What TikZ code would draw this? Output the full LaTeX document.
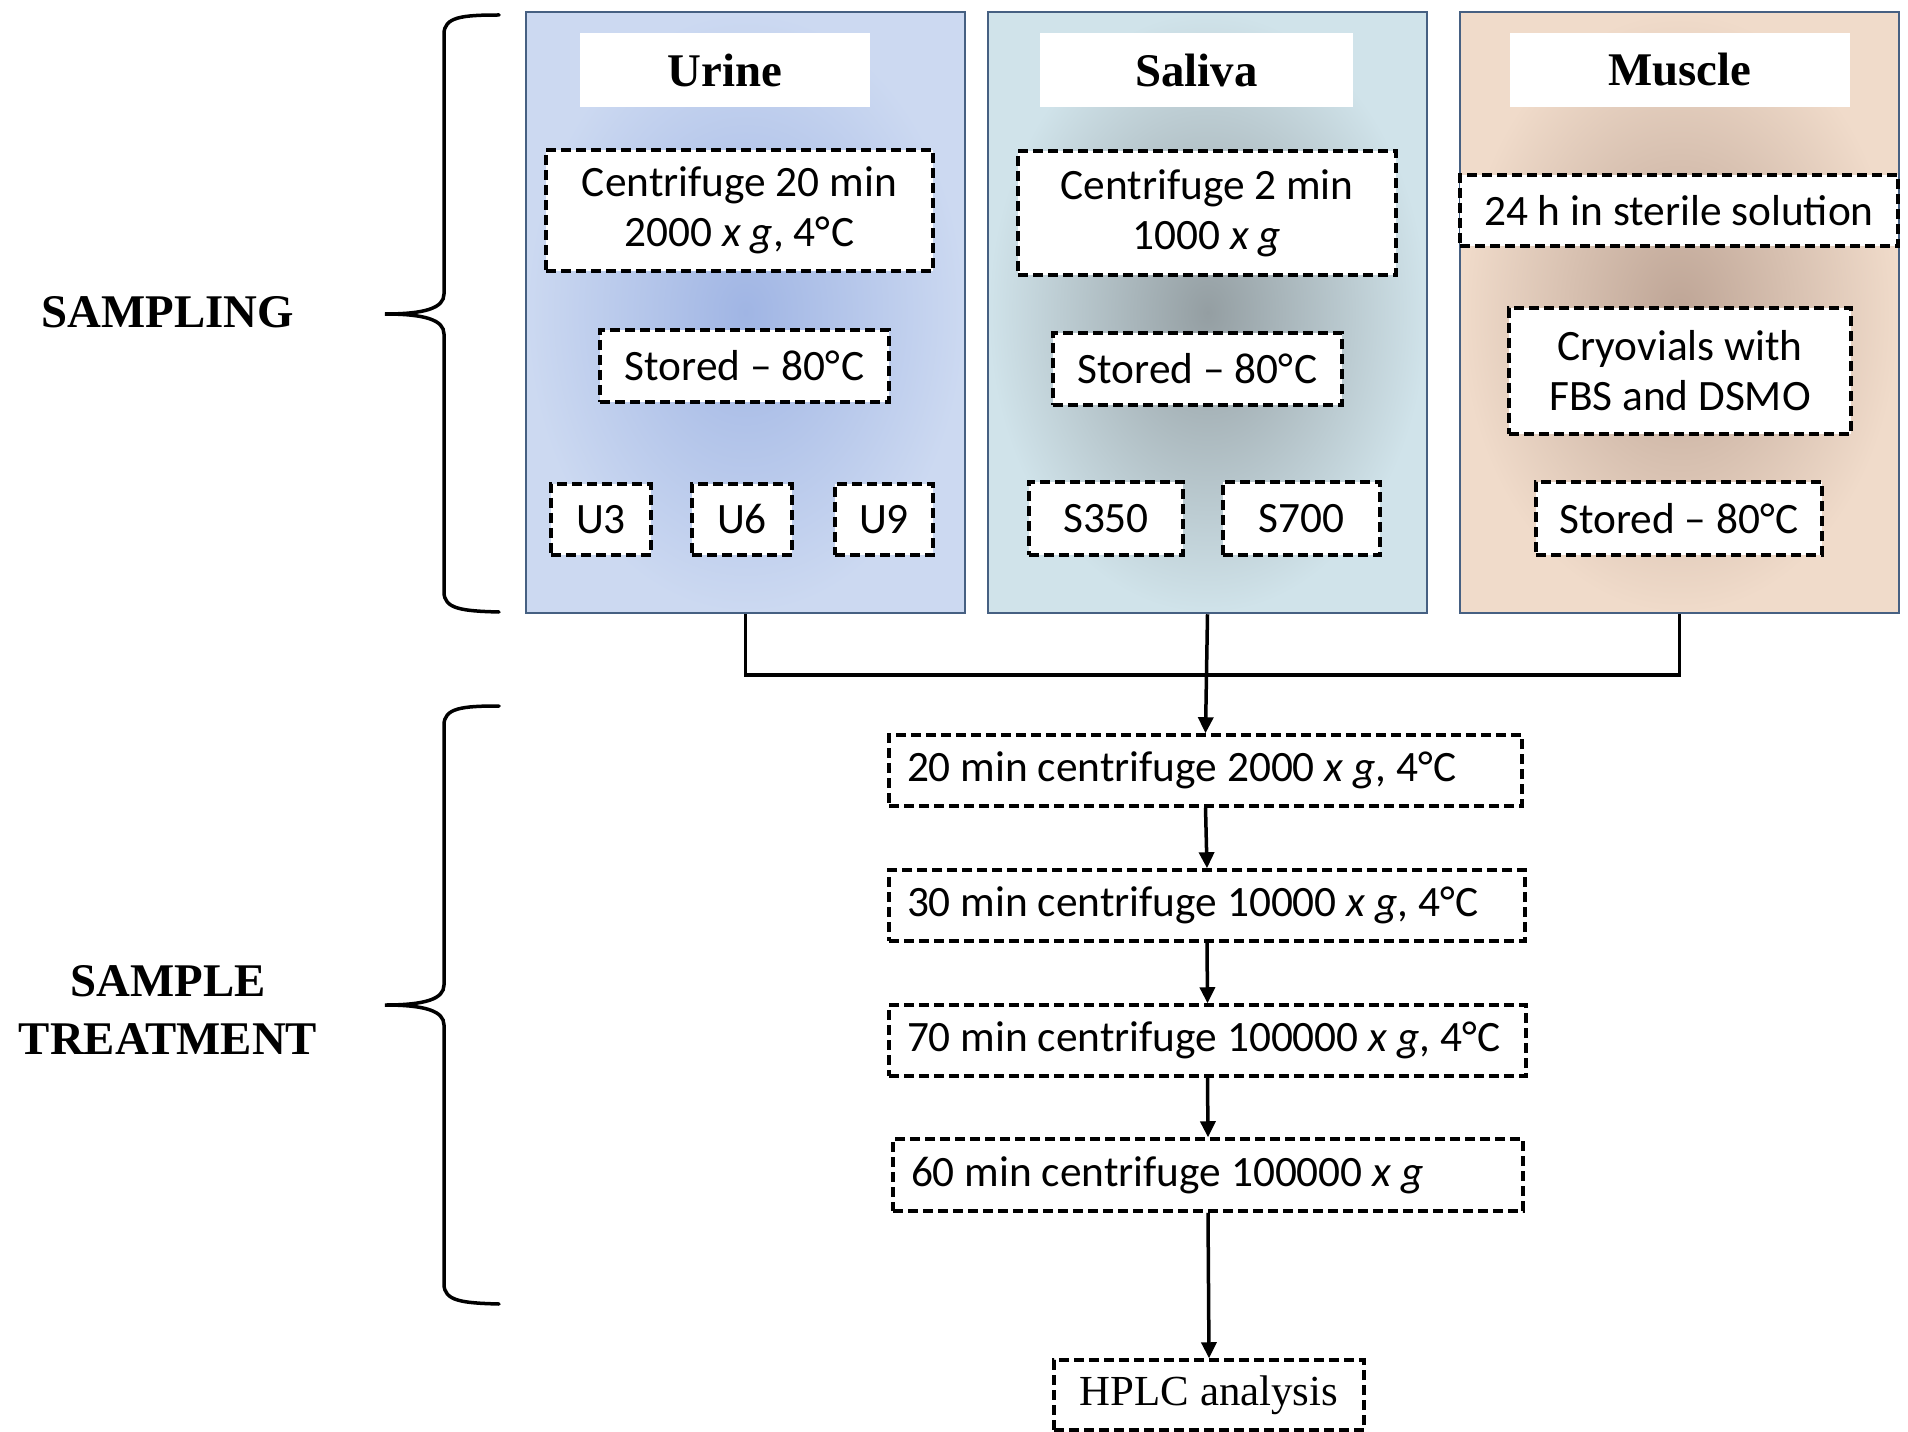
\documentclass[tikz,border=0pt]{standalone}
\usepackage{fontspec}
\setmainfont{Carlito}
\newfontfamily\tnr{Liberation Serif}
\usetikzlibrary{arrows.meta}
\definecolor{panelline}{RGB}{70,96,130}
\definecolor{urout}{RGB}{204,217,241}
\definecolor{urin}{RGB}{160,181,228}
\definecolor{saout}{RGB}{208,227,234}
\definecolor{sain}{RGB}{148,158,162}
\definecolor{muout}{RGB}{240,219,202}
\definecolor{muin}{RGB}{190,165,150}
\begin{document}
\begin{tikzpicture}[x=1bp,y=-1bp,
  panel/.style={draw=panelline, line width=2.5bp, inner sep=0, minimum width=439bp, minimum height=601bp},
  titlebox/.style={fill=white, inner sep=0, minimum height=74bp, font=\tnr\bfseries\fontsize{47}{56}\selectfont},
  dbox/.style={draw, fill=white, line width=3.5bp, dash pattern=on 10bp off 5bp, inner sep=0, font=\fontsize{43.5}{50}\selectfont, align=center},
  tbox/.style={dbox, inner xsep=18bp, inner ysep=0, minimum height=71bp},
  sidelabel/.style={font=\tnr\bfseries\fontsize{47}{58}\selectfont, align=center},
  conn/.style={line width=3.5bp},
  arr/.style={line width=3.5bp, -{Triangle[length=16bp,width=15bp]}},
  bracestyle/.style={line width=3.5bp, line cap=round}]
\useasboundingbox (0,0) rectangle (1908,1432);

% panels
\node[panel, inner color=urin, outer color=urout] (urine) at (745.5,312.5) {};
\node[panel, inner color=sain, outer color=saout] (saliva) at (1207.5,312.5) {};
\node[panel, inner color=muin, outer color=muout] (muscle) at (1679.5,312.5) {};

% titles
\node[titlebox, minimum width=290bp] (turine) at (725,70) {Urine};
\node[titlebox, minimum width=313bp] (tsaliva) at (1196.5,70) {Saliva};
\node[titlebox, minimum width=340bp] (tmuscle) at (1680,70) {Muscle};

% urine contents
\node[dbox, minimum width=387bp, minimum height=121bp] (ucent) at (739.5,210.5) {Centrifuge 20 min\\2000 \textit{x g}, 4°\kern1bp C};
\node[dbox, minimum width=289bp, minimum height=72bp] (ustore) at (744.5,366) {Stored – 80°\kern1bp C};
\node[dbox, minimum width=100bp, minimum height=71bp] (u3) at (601,519.5) {U3};
\node[dbox, minimum width=100bp, minimum height=71bp] (u6) at (742,519.5) {U6};
\node[dbox, minimum width=98bp, minimum height=71bp] (u9) at (884,519.5) {U9};

% saliva contents
\node[dbox, minimum width=378bp, minimum height=124bp] (scent) at (1207,213) {Centrifuge 2 min\\1000 \textit{x g}};
\node[dbox, minimum width=289bp, minimum height=72bp] (sstore) at (1197.5,369) {Stored – 80°\kern1bp C};
\node[dbox, minimum width=154bp, minimum height=73bp] (s350) at (1106,518.5) {S350};
\node[dbox, minimum width=157bp, minimum height=73bp] (s700) at (1301.5,518.5) {S700};

% muscle contents
\node[dbox, minimum width=438bp, minimum height=71bp] (m24) at (1679,210.5) {24 h in sterile solution};
\node[dbox, minimum width=342bp, minimum height=126bp] (mcryo) at (1680,371) {Cryovials with\\FBS and DSMO};
\node[dbox, minimum width=286bp, minimum height=73bp] (mstore) at (1679,518.5) {Stored – 80°\kern1bp C};

% treatment
\node[tbox] (t1) at (1205.5,770.5) {\makebox[597bp][l]{20 min centrifuge 2000 \textit{x g}, 4°\kern1bp C}};
\node[tbox] (t2) at (1207,905.5) {\makebox[600bp][l]{30 min centrifuge 10000 \textit{x g}, 4°\kern1bp C}};
\node[tbox] (t3) at (1207.5,1040.5) {\makebox[601bp][l]{70 min centrifuge 100000 \textit{x g}, 4°\kern1bp C}};
\node[tbox, minimum height=72bp] (t4) at (1208,1175) {\makebox[594bp][l]{60 min centrifuge 100000 \textit{x g}}};
\node[dbox, minimum width=310bp, minimum height=70bp, font=\tnr\fontsize{43}{50}\selectfont] (hplc) at (1209,1395) {HPLC analysis};

% connectors
\coordinate (jn) at (1207.5,675);
\draw[conn] (urine.south) |- (jn) -| (muscle.south);
\draw[arr] (saliva.south) -- (t1.north);
\draw[arr] (t1.south) -- (t2.north);
\draw[arr] (t2.south) -- (t3.north);
\draw[arr] (t3.south) -- (t4.north);
\draw[arr] (t4.south) -- (hplc.north);

% side labels
\node[sidelabel] (lsamp) at (168,312) {SAMPLING};
\node[sidelabel] (ltreat) at (168,1010) {SAMPLE\\TREATMENT};

% braces
\draw[bracestyle] (499,15) .. controls (462,15) and (444,17) .. (444,34) -- (444,294)
  .. controls (444,308) and (425,314) .. (385,314)
  .. controls (425,314) and (444,320) .. (444,334) -- (444,592)
  .. controls (444,609) and (462,611) .. (499,612);
\draw[bracestyle] (499,706) .. controls (462,706) and (444,708) .. (444,725) -- (444,985)
  .. controls (444,999) and (425,1005) .. (385,1005)
  .. controls (425,1005) and (444,1011) .. (444,1025) -- (444,1284)
  .. controls (444,1301) and (462,1303) .. (499,1304);
\end{tikzpicture}
\end{document}
